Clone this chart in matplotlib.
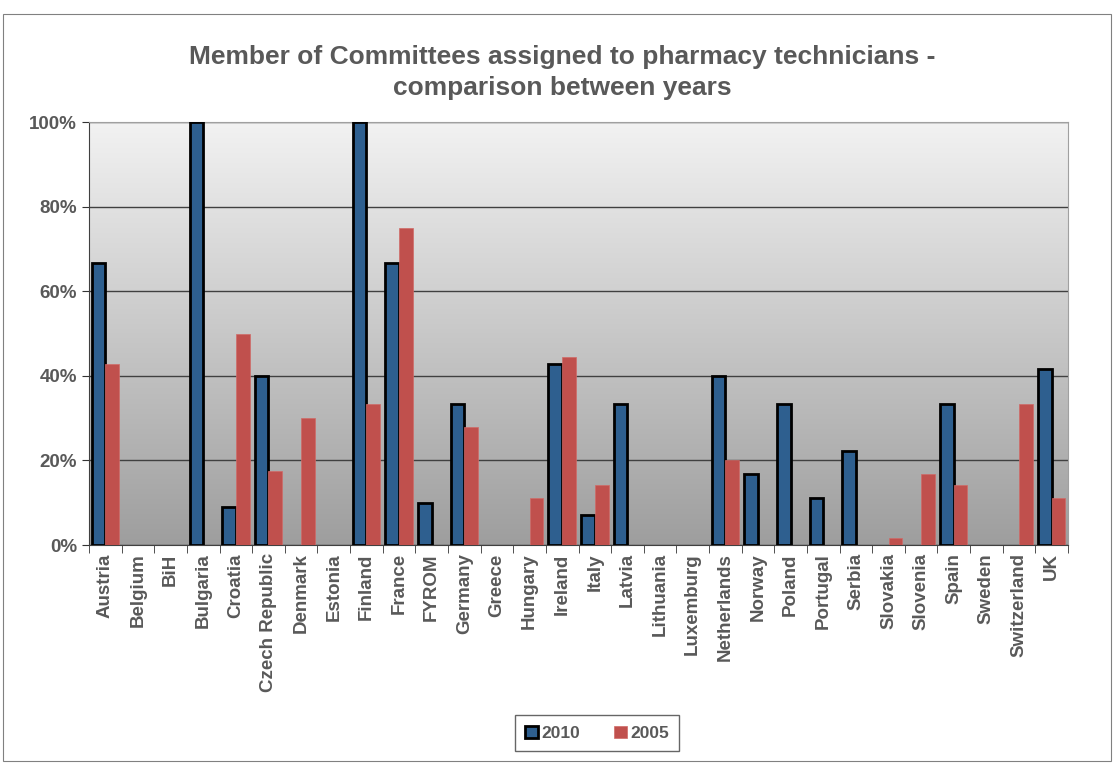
import numpy as np
import matplotlib.pyplot as plt
from matplotlib.patches import Rectangle

plt.rcParams['font.family'] = ['Liberation Sans', 'DejaVu Sans']
plt.rcParams['font.weight'] = 'bold'

paises = ['Austria', 'Belgium', 'BiH', 'Bulgaria', 'Croatia', 'Czech Republic',
          'Denmark', 'Estonia', 'Finland', 'France', 'FYROM', 'Germany', 'Greece',
          'Hungary', 'Ireland', 'Italy', 'Latvia', 'Lithuania', 'Luxemburg',
          'Netherlands', 'Norway', 'Poland', 'Portugal', 'Serbia', 'Slovakia',
          'Slovenia', 'Spain', 'Sweden', 'Switzerland', 'UK']
v2010 = [66.7, 0, 0, 100, 9.1, 40, 0, 0, 100, 66.7, 10, 33.3, 0, 0, 42.9, 7.1,
         33.3, 0, 0, 40, 16.7, 33.3, 11.1, 22.2, 0, 0, 33.3, 0, 0, 41.7]
v2005 = [42.9, 0, 0, 0, 50, 17.6, 30, 0, 33.3, 75, 0, 27.8, 0, 11.1, 44.4, 14.3,
         0, 0, 0, 20, 0, 0, 0, 0, 1.7, 16.7, 14.3, 0, 33.3, 11.1]

cinza = '#595959'
azul = '#2e5f8f'
vermelho = '#c0504d'

fig = plt.figure(figsize=(11.14, 7.63), dpi=100)
ax = fig.add_axes([0.0799, 0.2857, 0.8788, 0.5543])

# fundo em degradê
grad = np.linspace(0, 1, 256).reshape(-1, 1)
ax.imshow(grad, cmap=plt.matplotlib.colors.LinearSegmentedColormap.from_list(
    'g', ['#f2f2f2', '#9e9e9e']), aspect='auto', extent=[0, 1, 0, 1],
    transform=ax.transAxes, zorder=0)

x = np.arange(len(paises))
w = 0.42
# valores zero não aparecem no original
a = np.array(v2010, dtype=float)
b = np.array(v2005, dtype=float)
m1 = a > 0
m2 = b > 0
ax.bar(x[m1] - w / 2, a[m1], w, color=azul, edgecolor='black', linewidth=2,
       label='2010', zorder=3)
ax.bar(x[m2] + w / 2, b[m2], w, color=vermelho, edgecolor='#d06a67', linewidth=0.5,
       label='2005', zorder=3)

ax.set_xlim(-0.5, len(paises) - 0.5)
ax.set_ylim(0, 100)
ax.set_yticks(range(0, 101, 20))
ax.set_yticklabels([f'{t}%' for t in range(0, 101, 20)], fontsize=13.5,
                   fontweight='bold', color=cinza)
ax.set_xticks(x)
ax.set_xticklabels(paises, rotation=90, fontsize=13.5, fontweight='bold', color=cinza)
ax.set_xticks(np.arange(-0.5, len(paises), 1), minor=True)
ax.tick_params(axis='x', which='major', length=0, pad=6)
ax.tick_params(axis='x', which='minor', length=6, color='#333333')
ax.tick_params(axis='y', length=5, color='#333333')
ax.grid(axis='y', color='#404040', linewidth=1, zorder=1)
ax.set_axisbelow(True)
for s in ['top', 'right']:
    ax.spines[s].set_color('#a0a0a0')
ax.spines['left'].set_color('#404040')
ax.spines['bottom'].set_color('#404040')

fig.text(0.505, 0.905, 'Member of Committees assigned to pharmacy technicians -\ncomparison between years',
         ha='center', va='center', fontsize=19, fontweight='bold', color=cinza,
         linespacing=1.35)

leg = fig.legend(loc='center', bbox_to_anchor=(0.536, 0.039), ncol=2,
                 frameon=True, fancybox=False, edgecolor='#404040',
                 prop={'size': 12.5, 'weight': 'bold'}, handlelength=0.7,
                 handleheight=0.7, handletextpad=0.2, columnspacing=2.0,
                 borderpad=0.6)
for t in leg.get_texts():
    t.set_color(cinza)

fig.patches.append(Rectangle((0.003, 0.003), 0.994, 0.978, transform=fig.transFigure,
                             fill=False, edgecolor='#808080', linewidth=0.8))

fig.savefig('out.png', dpi=100)
